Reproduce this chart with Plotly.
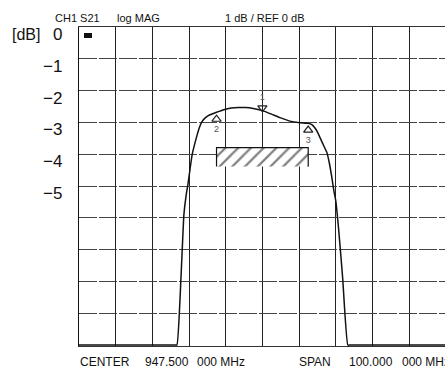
import plotly.graph_objects as go

# ---- data ----
freq_mhz = [897.5, 910.0, 923.6, 924.2, 925.3, 926.1, 926.7, 927.2, 927.8, 928.3, 929.0, 929.7,
            930.3, 931.0, 932.0, 933.2, 935.0, 937.0, 939.0, 941.0, 943.0, 945.0,
            947.5, 950.0, 952.3, 955.0, 957.7, 960.0, 961.0, 962.0, 962.6, 963.5,
            964.3, 965.1, 965.8, 966.4, 967.0, 967.5, 968.3, 969.4, 970.8, 971.4, 985.0, 997.5]
s21_db = [-10.0, -10.0, -10.0, -10.0, -7.9, -5.9, -5.3, -4.95, -4.45, -4.05, -3.7, -3.4,
          -3.17, -2.98, -2.85, -2.76, -2.68, -2.6, -2.55, -2.53, -2.53, -2.56,
          -2.63, -2.74, -2.85, -2.96, -3.01, -3.03, -3.07, -3.2, -3.32, -3.55,
          -3.75, -3.95, -4.3, -4.7, -5.15, -5.45, -6.36, -7.9, -10.0, -10.0, -10.0, -10.0]

marker_freq = [947.5, 935.0, 960.0]
marker_db = [-2.63, -2.70, -3.04]
marker_label = ["1", "2", "3"]

mask_freq = [935.0, 960.0]
mask_db = [-4.39, -3.79]

y_tickvals = [0, -1, -2, -3, -4, -5]
y_ticktext = ["0", "\u22121", "\u22122", "\u22123", "\u22124", "\u22125"]

header_texts = ["CH1 S21", "log MAG", "1 dB / REF 0 dB"]
footer_texts = ["CENTER", "947.500", "000 MHz", "SPAN", "100.000", "000 MHz"]

FONT = "Liberation Sans, Arial, sans-serif"

fig = go.Figure()

# hatched limit mask
fig.add_trace(go.Bar(
    x=[(mask_freq[0] + mask_freq[1]) / 2], y=[mask_db[1] - mask_db[0]], base=[mask_db[0]],
    width=[mask_freq[1] - mask_freq[0]],
    marker=dict(color="white", line=dict(width=0),
                pattern=dict(shape="/", fgcolor="#000", bgcolor="white", size=9, solidity=0.25)),
    hoverinfo="skip", showlegend=False))
fig.add_trace(go.Scatter(
    x=[mask_freq[0], mask_freq[0], mask_freq[1], mask_freq[1]],
    y=[mask_db[0], mask_db[1], mask_db[1], mask_db[0]],
    mode="lines", line=dict(color="#111", width=1.2), showlegend=False, hoverinfo="skip"))

# trace
fig.add_trace(go.Scatter(x=freq_mhz, y=s21_db, mode="lines",
                         line=dict(color="#111", width=1.5, shape="spline", smoothing=0.4),
                         showlegend=False))

# markers
fig.add_trace(go.Scatter(
    x=[marker_freq[0]], y=[marker_db[0] + 0.09], mode="markers+text",
    marker=dict(symbol="triangle-down-open", size=8, color="#222", line=dict(width=1.2)),
    text=[marker_label[0]], textposition="top center",
    textfont=dict(family=FONT, size=9, color="#555"), showlegend=False))
fig.add_trace(go.Scatter(
    x=marker_freq[1:], y=[v - 0.2 for v in marker_db[1:]], mode="markers+text",
    marker=dict(symbol="triangle-up-open", size=8, color="#222", line=dict(width=1.2)),
    text=marker_label[1:], textposition="bottom center",
    textfont=dict(family=FONT, size=9, color="#555"), showlegend=False))

annots = []
for t, x in zip(header_texts, [53, 115, 223]):
    annots.append(dict(text=t, x=(x - 79) / 366, y=(346 - 18) / 319, xref="paper", yref="paper",
                       xanchor="left", yanchor="middle", showarrow=False,
                       font=dict(family=FONT, size=11, color="#111")))
for t, x in zip(footer_texts, [78, 143, 195, 297, 347, 400]):
    annots.append(dict(text=t, x=(x - 79) / 366, y=(346 - 362) / 319, xref="paper", yref="paper",
                       xanchor="left", yanchor="middle", showarrow=False,
                       font=dict(family=FONT, size=12, color="#111")))
annots.append(dict(text="[dB]", x=(10 - 79) / 366, y=(346 - 34) / 319, xref="paper", yref="paper",
                   xanchor="left", yanchor="middle", showarrow=False,
                   font=dict(family=FONT, size=16, color="#111")))

fig.update_layout(
    width=445, height=369,
    margin=dict(l=79, r=0, t=27, b=23),
    paper_bgcolor="white", plot_bgcolor="white",
    barmode="overlay",
    annotations=annots,
    shapes=[dict(type="rect", xref="x domain", yref="y domain",
                 x0=(84 - 79) / 366, x1=(92 - 79) / 366,
                 y0=(346 - 38) / 319, y1=(346 - 33) / 319,
                 fillcolor="#111", line=dict(width=0))],
    xaxis=dict(range=[897.5, 997.3], tick0=897.5, dtick=10, showticklabels=False,
               showgrid=True, gridcolor="#222", gridwidth=1, zeroline=False,
               showline=True, mirror=True, linecolor="#333", linewidth=1, ticks=""),
    yaxis=dict(range=[-10.03, 0], tickmode="array", tickvals=y_tickvals, ticktext=y_ticktext,
               showgrid=False, zeroline=False, showline=True, linecolor="#111", linewidth=1.2,
               ticks="", ticklabelstandoff=12, ticklabelshift=7,
               tickfont=dict(family=FONT, size=17, color="#111")),
    yaxis2=dict(range=[-10.03, 0], overlaying="y", dtick=1, tick0=0, showgrid=True,
                gridcolor="#444", gridwidth=1, griddash="18px,2px",
                showticklabels=False, zeroline=False, ticks=""),
    font=dict(family=FONT),
)
# dummy trace to activate the gridline axis
fig.add_trace(go.Scatter(x=[None], y=[None], yaxis="y2", showlegend=False))

fig.write_html("out.html", config={"displayModeBar": False},
               post_script="document.body.style.margin='0';")
